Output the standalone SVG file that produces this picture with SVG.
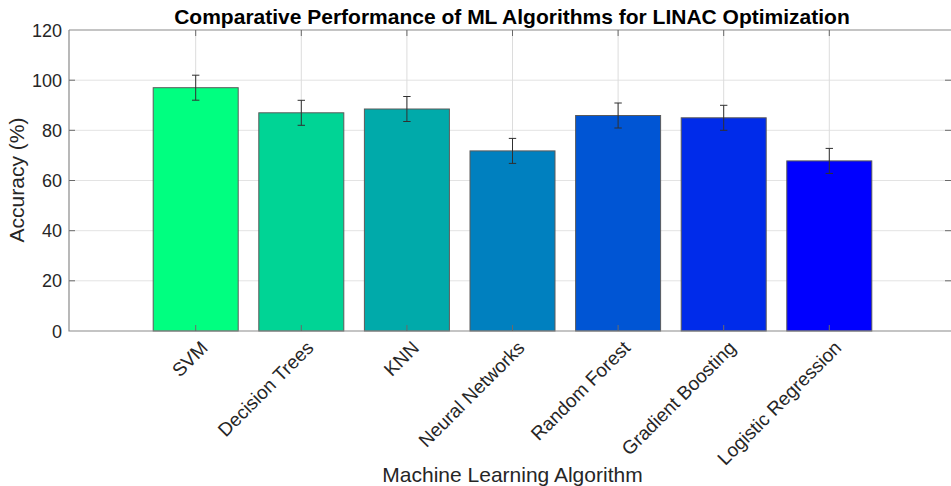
<svg xmlns="http://www.w3.org/2000/svg" width="951" height="486" viewBox="0 0 951 486">
<style>
text{font-family:"Liberation Sans",Arial,sans-serif;fill:#262626}
.tick{font-size:18px}
.xt{font-size:19px}
.lab{font-size:21px}
.title{font-size:21px;font-weight:bold;fill:#000}
.grid{stroke:#e3e3e3;stroke-width:1}
.vgrid{stroke:#dcdcdc;stroke-width:1}
.axis{stroke:#8a8a8a;stroke-width:1.2;fill:none}
.tk{stroke:#6a6a6a;stroke-width:1}
.bar{stroke:#5a5a5a;stroke-width:1}
.err{stroke:#303030;stroke-width:1;fill:none}
</style>
<rect x="0" y="0" width="951" height="486" fill="#fff"/>
<g id="grid">
<line class="grid" x1="69" y1="280.8" x2="951" y2="280.8"/>
<line class="grid" x1="69" y1="230.7" x2="951" y2="230.7"/>
<line class="grid" x1="69" y1="180.5" x2="951" y2="180.5"/>
<line class="grid" x1="69" y1="130.3" x2="951" y2="130.3"/>
<line class="grid" x1="69" y1="80.2" x2="951" y2="80.2"/>
<line class="vgrid" x1="195.7" y1="30" x2="195.7" y2="331"/>
<line class="vgrid" x1="301.3" y1="30" x2="301.3" y2="331"/>
<line class="vgrid" x1="406.9" y1="30" x2="406.9" y2="331"/>
<line class="vgrid" x1="512.5" y1="30" x2="512.5" y2="331"/>
<line class="vgrid" x1="618.1" y1="30" x2="618.1" y2="331"/>
<line class="vgrid" x1="723.7" y1="30" x2="723.7" y2="331"/>
<line class="vgrid" x1="829.3" y1="30" x2="829.3" y2="331"/>
</g>
<g id="bar-svm"><rect class="bar" x="153.2" y="87.7" width="85" height="243.3" fill="#00FF80"/></g>
<g id="bar-dt"><rect class="bar" x="258.8" y="112.8" width="85" height="218.2" fill="#00D495"/></g>
<g id="bar-knn"><rect class="bar" x="364.4" y="109" width="85" height="222" fill="#00AAAA"/></g>
<g id="bar-nn"><rect class="bar" x="470" y="150.9" width="85" height="180.1" fill="#0080BF"/></g>
<g id="bar-rf"><rect class="bar" x="575.6" y="115.5" width="85" height="215.5" fill="#0055D4"/></g>
<g id="bar-gb"><rect class="bar" x="681.2" y="117.8" width="85" height="213.2" fill="#002BEA"/></g>
<g id="bar-lr"><rect class="bar" x="786.8" y="160.9" width="85" height="170.1" fill="#0000FF"/></g>
<g id="errorbars">
<path class="err" d="M195.7 75.2V100.2M192 75.2H199.4M192 100.2H199.4"/>
<path class="err" d="M301.3 100.3V125.3M297.6 100.3H305M297.6 125.3H305"/>
<path class="err" d="M406.9 96.5V121.5M403.2 96.5H410.6M403.2 121.5H410.6"/>
<path class="err" d="M512.5 138.4V163.4M508.8 138.4H516.2M508.8 163.4H516.2"/>
<path class="err" d="M618.1 103V128M614.4 103H621.8M614.4 128H621.8"/>
<path class="err" d="M723.7 105.3V130.3M720 105.3H727.4M720 130.3H727.4"/>
<path class="err" d="M829.3 148.4V173.4M825.6 148.4H833M825.6 173.4H833"/>
</g>
<g id="axes">
<path class="axis" d="M69 30V331H951M69 30H951"/>
<path class="tk" d="M69 280.8h6M69 230.7h6M69 180.5h6M69 130.3h6M69 80.2h6M945 280.8h6M945 230.7h6M945 180.5h6M945 130.3h6M945 80.2h6"/>
<path class="tk" d="M195.7 30v6M301.3 30v6M406.9 30v6M512.5 30v6M618.1 30v6M723.7 30v6M829.3 30v6M195.7 331v-6M301.3 331v-6M406.9 331v-6M512.5 331v-6M618.1 331v-6M723.7 331v-6M829.3 331v-6"/>
</g>
<g id="yticklabels" class="tick" text-anchor="end">
<text x="62" y="337.5">0</text>
<text x="62" y="287.3">20</text>
<text x="62" y="237.2">40</text>
<text x="62" y="187">60</text>
<text x="62" y="136.8">80</text>
<text x="62" y="86.7">100</text>
<text x="62" y="36.5">120</text>
</g>
<g id="xticklabels" class="xt" text-anchor="end">
<text transform="translate(209 349) rotate(-45)">SVM</text>
<text transform="translate(314.6 349) rotate(-45)">Decision Trees</text>
<text transform="translate(420.2 349) rotate(-45)">KNN</text>
<text transform="translate(525.8 349) rotate(-45)">Neural Networks</text>
<text transform="translate(631.4 349) rotate(-45)">Random Forest</text>
<text transform="translate(737 349) rotate(-45)">Gradient Boosting</text>
<text transform="translate(842.6 349) rotate(-45)">Logistic Regression</text>
</g>
<g id="labels">
<text class="lab" x="512.5" y="482" text-anchor="middle">Machine Learning Algorithm</text>
<text class="lab" transform="translate(24 180) rotate(-90)" text-anchor="middle">Accuracy (%)</text>
<text class="title" x="512" y="23.5" text-anchor="middle">Comparative Performance of ML Algorithms for LINAC Optimization</text>
</g>
</svg>
